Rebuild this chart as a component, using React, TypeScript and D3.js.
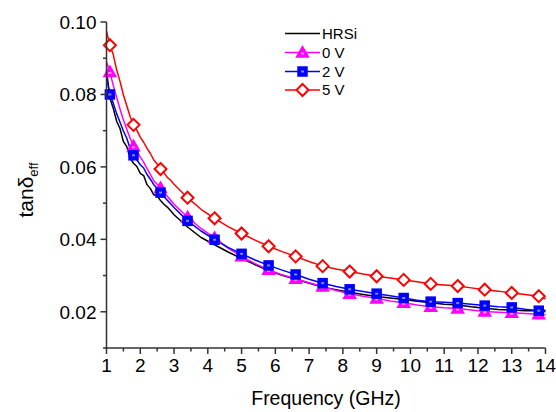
import React from "react";
import * as d3 from "d3";

const freqs = [
  1.0, 1.1, 1.2, 1.3, 1.4, 1.5, 1.6, 1.7, 1.8, 1.9, 2.0, 2.1, 2.2, 2.3, 2.4, 2.5, 2.6, 2.7, 2.8, 2.9, 3.0,
  3.4, 3.8, 4.2, 4.6, 5.0, 5.4, 5.8, 6.2, 6.6, 7.0, 7.4, 7.8, 8.2, 8.6, 9.0, 9.4, 9.8, 10.2, 10.6, 11.0,
  11.4, 11.8, 12.2, 12.6, 13.0, 13.4, 13.8, 14.0,
];

const hrsi = [
  0.0866, 0.0790, 0.0762, 0.0726, 0.0706, 0.0670, 0.0656, 0.0624, 0.0610, 0.0601, 0.0582, 0.0576, 0.0551, 0.0540, 0.0523, 0.0520, 0.0507, 0.0497, 0.0489, 0.0479, 0.0468,
  0.0434, 0.0405, 0.0385, 0.0365, 0.0347, 0.0330, 0.0314, 0.0301, 0.0290, 0.0279, 0.0268, 0.0261, 0.0254, 0.0248, 0.0242, 0.0238, 0.0234, 0.0229, 0.0225, 0.0221,
  0.0219, 0.0214, 0.0210, 0.0206, 0.0205, 0.0203, 0.0203, 0.0204,
];

const v0 = [
  0.0890, 0.0862, 0.0825, 0.0792, 0.0760, 0.0730, 0.0704, 0.0679, 0.0657, 0.0644, 0.0627, 0.0613, 0.0595, 0.0579, 0.0562, 0.0552, 0.0542, 0.0530, 0.0519, 0.0508, 0.0497,
  0.0461, 0.0430, 0.0404, 0.0376, 0.0353, 0.0333, 0.0316, 0.0302, 0.0291, 0.0280, 0.0270, 0.0259, 0.0250, 0.0243, 0.0237, 0.0230, 0.0225, 0.0219, 0.0214, 0.0211,
  0.0209, 0.0205, 0.0201, 0.0199, 0.0197, 0.0195, 0.0193, 0.0192,
];

const v2 = [
  0.0850, 0.0800, 0.0776, 0.0747, 0.0723, 0.0699, 0.0679, 0.0651, 0.0632, 0.0619, 0.0606, 0.0597, 0.0579, 0.0566, 0.0551, 0.0541, 0.0529, 0.0518, 0.0508, 0.0498, 0.0488,
  0.0451, 0.0423, 0.0399, 0.0378, 0.0360, 0.0343, 0.0328, 0.0315, 0.0303, 0.0290, 0.0279, 0.0270, 0.0262, 0.0256, 0.0250, 0.0244, 0.0238, 0.0232, 0.0228, 0.0226,
  0.0224, 0.0221, 0.0217, 0.0214, 0.0212, 0.0207, 0.0203, 0.0200,
];

const v5 = [
  0.0975, 0.0936, 0.0910, 0.0868, 0.0836, 0.0799, 0.0769, 0.0739, 0.0716, 0.0701, 0.0682, 0.0668, 0.0651, 0.0637, 0.0619, 0.0608, 0.0594, 0.0584, 0.0571, 0.0563, 0.0552,
  0.0515, 0.0483, 0.0458, 0.0435, 0.0416, 0.0398, 0.0381, 0.0366, 0.0353, 0.0339, 0.0326, 0.0318, 0.0311, 0.0304, 0.0298, 0.0293, 0.0288, 0.0283, 0.0277, 0.0274,
  0.0271, 0.0266, 0.0261, 0.0257, 0.0252, 0.0248, 0.0243, 0.0236,
];

const markerFreqs = [1.1, 1.8, 2.6, 3.4, 4.2, 5.0, 5.8, 6.6, 7.4, 8.2, 9.0, 9.8, 10.6, 11.4, 12.2, 13.0, 13.8];

const xTicks = [1, 2, 3, 4, 5, 6, 7, 8, 9, 10, 11, 12, 13, 14];
const yTicks = [0.02, 0.04, 0.06, 0.08, 0.1];

const seriesNames = ["HRSi", "0 V", "2 V", "5 V"];
const seriesColors = ["#000000", "#FF00FF", "#0000FF", "#FF0000"];
const seriesMarkers = ["none", "triangle", "square", "diamond"];
const seriesValues = [hrsi, v0, v2, v5];

const FONT = "'Liberation Sans', Arial, sans-serif";

function Marker({ kind, x, y, color }: { kind: string; x: number; y: number; color: string }) {
  if (kind === "triangle") {
    const s = 6;
    return (
      <g>
        <path
          d={`M${x},${y - s} L${x + s},${y + s * 0.75} L${x - s},${y + s * 0.75} Z`}
          fill={color}
          stroke={color}
          strokeWidth={1.5}
        />
        <rect x={x - 1.5} y={y} width={3} height={2} fill="#ff99ff" />
      </g>
    );
  }
  if (kind === "square") {
    return (
      <g>
        <rect x={x - 4.5} y={y - 4.5} width={9} height={9} fill={color} stroke={color} strokeWidth={1.5} />
        <rect x={x - 1.5} y={y - 1} width={3} height={2} fill="#8888ff" />
      </g>
    );
  }
  if (kind === "diamond") {
    const s = 6;
    return (
      <path
        d={`M${x},${y - s} L${x + s},${y} L${x},${y + s} L${x - s},${y} Z`}
        fill="#ffffff"
        stroke={color}
        strokeWidth={2}
      />
    );
  }
  return null;
}

export default function App() {
  const width = 556;
  const height = 412;
  const x = d3.scaleLinear().domain([1, 14]).range([106.5, 545.5]);
  const y = d3.scaleLinear().domain([0.01, 0.1]).range([348, 22]);
  const line = d3
    .line<number>()
    .x((_, i) => x(freqs[i]))
    .y((d) => y(d));

  const xMinor = d3.range(1.5, 14, 1);
  const yMinor = [0.01, 0.03, 0.05, 0.07, 0.09];
  const axisColor = "#333333";
  const fmt = d3.format(".2f");

  const legendX0 = 285;
  const legendX1 = 320;
  const legendY = [33.5, 52.5, 71.5, 90];

  return (
    <svg
      width={width}
      height={height}
      style={{ position: "absolute", left: 0, top: 0, background: "#fff" }}
      fontFamily={FONT}
    >
      <rect x={0} y={0} width={width} height={height} fill="#fff" />
      {seriesValues.map((vals, si) => (
        <path key={"l" + si} d={line(vals) || ""} fill="none" stroke={seriesColors[si]} strokeWidth={1.5} strokeLinejoin="round" />
      ))}
      {seriesValues.map((vals, si) =>
        freqs.map((f, i) =>
          markerFreqs.some((m) => Math.abs(m - f) < 1e-6) ? (
            <Marker key={`m${si}-${i}`} kind={seriesMarkers[si]} x={x(f)} y={y(vals[i])} color={seriesColors[si]} />
          ) : null
        )
      )}
      <line x1={x(1)} x2={x(1)} y1={y(0.1)} y2={y(0.01) + 1} stroke={axisColor} strokeWidth={1.5} />
      <line x1={x(1) - 1} x2={x(14)} y1={y(0.01)} y2={y(0.01)} stroke={axisColor} strokeWidth={1.5} />
      {yTicks.map((t) => (
        <g key={"yt" + t}>
          <line x1={x(1) - 6} x2={x(1)} y1={y(t)} y2={y(t)} stroke={axisColor} strokeWidth={1.5} />
          <text x={x(1) - 10} y={y(t)} dy="0.36em" textAnchor="end" fontSize={19} fill="#000">
            {fmt(t)}
          </text>
        </g>
      ))}
      {yMinor.map((t) => (
        <line key={"ym" + t} x1={x(1) - 3.5} x2={x(1)} y1={y(t)} y2={y(t)} stroke={axisColor} strokeWidth={1.5} />
      ))}
      {xTicks.map((t) => (
        <g key={"xt" + t}>
          <line x1={x(t)} x2={x(t)} y1={y(0.01)} y2={y(0.01) + 6} stroke={axisColor} strokeWidth={1.5} />
          <text x={x(t)} y={y(0.01) + 24} textAnchor="middle" fontSize={19} fill="#000">
            {t}
          </text>
        </g>
      ))}
      {xMinor.map((t) => (
        <line key={"xm" + t} x1={x(t)} x2={x(t)} y1={y(0.01)} y2={y(0.01) + 3.5} stroke={axisColor} strokeWidth={1.5} />
      ))}
      <text x={326} y={405} textAnchor="middle" fontSize={19.5} fill="#000">
        Frequency (GHz)
      </text>
      <text transform="translate(33,190) rotate(-90)" textAnchor="middle" fontSize={21} fill="#000">
        tanδ
        <tspan fontSize={13} dy={5}>
          eff
        </tspan>
      </text>
      {seriesNames.map((n, si) => (
        <g key={"lg" + si}>
          <line x1={legendX0} x2={legendX1} y1={legendY[si]} y2={legendY[si]} stroke={seriesColors[si]} strokeWidth={1.5} />
          <Marker kind={seriesMarkers[si]} x={(legendX0 + legendX1) / 2} y={legendY[si]} color={seriesColors[si]} />
          <text x={legendX1 + 2} y={legendY[si]} dy="0.36em" fontSize={15} fill="#000">
            {n}
          </text>
        </g>
      ))}
    </svg>
  );
}
